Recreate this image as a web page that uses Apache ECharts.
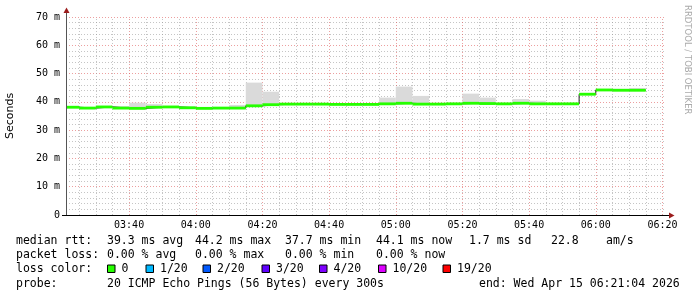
<!DOCTYPE html>
<html>
<head>
<meta charset="utf-8">
<script src="https://cdn.jsdelivr.net/npm/echarts@6/dist/echarts.min.js"></script>
<style>html,body{margin:0;padding:0;background:#fff}#c{width:697px;height:297px}</style>
</head>
<body>
<div id="c"></div>
<script>
// interval start times (last entry = end of final interval)
const times = ['03:21:04','03:25','03:30','03:35','03:40','03:45','03:50','03:55',
  '04:00','04:05','04:10','04:15','04:20','04:25','04:30','04:35','04:40','04:45','04:50','04:55',
  '05:00','05:05','05:10','05:15','05:20','05:25','05:30','05:35','05:40','05:45','05:50','05:55',
  '06:00','06:05','06:10','06:15'];
// median rtt (ms)
const median = [38.1,37.8,38.2,37.8,37.7,38.1,38.2,37.9,37.7,37.8,37.8,38.6,39.0,39.2,39.2,39.2,39.1,39.1,39.1,
  39.3,39.5,39.2,39.2,39.3,39.5,39.4,39.3,39.5,39.3,39.3,39.3,42.7,44.2,44.1,44.1];
// smoke range (ms)
const smokeLow = [37.8,37.5,37.9,37.5,37.4,37.8,37.9,37.6,37.4,37.5,37.5,38.3,38.7,38.9,38.9,38.9,38.8,38.8,38.8,
  39.0,39.2,38.9,38.9,39.0,39.2,39.1,39.0,39.2,39.0,39.0,39.0,42.4,43.9,43.8,43.8];
const smokeHigh = [38.4,38.0,38.4,38.5,39.7,39.2,38.4,38.4,37.9,37.9,38.9,46.8,43.6,39.5,39.4,39.5,39.3,39.3,39.3,
  41.5,45.4,42.1,39.6,39.6,42.9,41.5,39.5,41.0,40.4,39.5,39.5,43.0,44.4,44.6,44.9];
const xTickLabels = ['03:40','04:00','04:20','04:40','05:00','05:20','05:40','06:00','06:20'];
const yTicks = [0,10,20,30,40,50,60,70];
const axisStart = '03:21:04', axisEnd = '06:21:04';

const legendRows = [
  ['median rtt:', [['39.3 ms avg',107],['44.2 ms max',195],['37.7 ms min',285],['44.1 ms now',376],['1.7 ms sd',469],['22.8',551],['am/s',606]]],
  ['packet loss:', [['0.00 % avg',107],['0.00 % max',195],['0.00 % min',285],['0.00 % now',376]]],
  ['loss color:', []],
  ['probe:', [['20 ICMP Echo Pings (56 Bytes) every 300s',107],['end: Wed Apr 15 06:21:04 2026',479]]]
];
const lossColors = [['0','#26ff00'],['1/20','#00b8ff'],['2/20','#0059ff'],['3/20','#5e00ff'],['4/20','#7e00ff'],['10/20','#dd00ff'],['19/20','#ff0000']];
const lossBoxX = [107.5,146,203,262,319.5,378.5,443];

function toMin(s){const p=s.split(':').map(Number);return p[0]*60+p[1]+(p[2]||0)/60;}
const xs = times.map(toMin);
const BAND = 0.5;

const mono = '"DejaVu Sans Mono", monospace';
const minX = toMin(axisStart), maxX = toMin(axisEnd);

const vLines = [];
for (let m = Math.ceil(minX/5)*5; m <= maxX; m += 5) {
  const major = m % 20 === 0;
  vLines.push({xAxis: m, lineStyle: {color: major ? 'rgba(220,80,80,0.55)' : 'rgba(150,150,150,0.55)', type: [1,2], width: 1}});
}

const smokeData = median.map((v,i)=>[xs[i], xs[i+1], smokeLow[i], smokeHigh[i]]);
const bandData = median.map((v,i)=>[xs[i], xs[i+1], v-BAND, v+BAND]);
const medLine = median.map((v,i)=>[xs[i], v]).concat([[xs[xs.length-1], median[median.length-1]]]);

function rectItem(color){
  return function(params, api){
    const p0 = api.coord([api.value(0), api.value(3)]);
    const p1 = api.coord([api.value(1), api.value(2)]);
    return {type:'rect', shape:{x:p0[0], y:p0[1], width:p1[0]-p0[0], height:p1[1]-p0[1]}, style:{fill:color}};
  };
}

const graphic = [
  {type:'line', shape:{x1:66.5,y1:10,x2:66.5,y2:215}, style:{stroke:'#555',lineWidth:1}, z:100},
  {type:'line', shape:{x1:62,y1:215.5,x2:670,y2:215.5}, style:{stroke:'#000',lineWidth:1}, z:100},
  {type:'polygon', shape:{points:[[63.5,13],[69.5,13],[66.5,7.5]]}, style:{fill:'#9b1c1c'}, z:101},
  {type:'polygon', shape:{points:[[669,212.5],[669,218.5],[674.5,215.5]]}, style:{fill:'#9b1c1c'}, z:101},
  {type:'text', x:687, y:5, rotation:-Math.PI/2, style:{text:'RRDTOOL / TOBI OETIKER', fill:'#aaa', font:'8.5px "DejaVu Sans"', align:'left', verticalAlign:'middle'}, z:100}
];
const rowY = [241, 255.5, 269.5, 284];
legendRows.forEach((r,i)=>{
  graphic.push({type:'text', x:16, y:rowY[i], style:{text:r[0], fill:'#000', font:'11.5px '+mono, verticalAlign:'middle'}});
  r[1].forEach(it=>graphic.push({type:'text', x:it[1], y:rowY[i], style:{text:it[0], fill:'#000', font:'11.5px '+mono, verticalAlign:'middle'}}));
});
lossColors.forEach((c,i)=>{
  graphic.push({type:'rect', shape:{x:lossBoxX[i], y:rowY[2]-4.5, width:7.5, height:7.5}, style:{fill:c[1], stroke:'#000', lineWidth:1}});
  graphic.push({type:'text', x:lossBoxX[i]+14, y:rowY[2], style:{text:c[0], fill:'#000', font:'11.5px '+mono, verticalAlign:'middle'}});
});

const chart = echarts.init(document.getElementById('c'), null, {renderer:'canvas'});
chart.setOption({
  backgroundColor:'#fff',
  animation:false,
  grid:{left:66, right:31, top:17, bottom:82, containLabel:false, outerBoundsMode:'none'},
  xAxis:{type:'value', min:minX, max:maxX,
    axisLine:{show:false}, axisTick:{show:false}, splitLine:{show:false},
    axisLabel:{customValues: xTickLabels.map(toMin), formatter:(v)=>{const h=Math.floor(v/60), m=Math.round(v-h*60);return String(h).padStart(2,'0')+':'+String(m).padStart(2,'0');},
      fontFamily:mono, fontSize:10, color:'#000', margin:5}},
  yAxis:{type:'value', min:0, max:70, interval:10,
    name:'Seconds', nameLocation:'middle', nameGap:50, nameRotate:90,
    nameTextStyle:{fontFamily:'"DejaVu Sans"', fontSize:11, color:'#000'},
    axisLine:{show:false}, axisTick:{show:false},
    axisLabel:{formatter:(v)=> yTicks.includes(v) ? (v===0?'0':v+' m') : '', fontFamily:mono, fontSize:10, color:'#000', margin:6},
    splitLine:{show:true, lineStyle:{color:'rgba(220,80,80,0.55)', type:[1,2]}},
    minorTick:{show:false, splitNumber:5},
    minorSplitLine:{show:true, lineStyle:{color:'rgba(150,150,150,0.55)', type:[1,2]}}},
  graphic: graphic,
  series:[
    {type:'line', name:'grid', data:[], silent:true, z:1, markLine:{silent:true, symbol:'none', label:{show:false}, animation:false, z:1, data:vLines}},
    {type:'custom', name:'smoke', z:2, silent:true, renderItem: rectItem('#dadada'), encode:{x:[0,1], y:[2,3]}, data: smokeData},
    {type:'line', name:'median', z:3, step:'end', symbol:'none', showSymbol:false, silent:true, data: medLine, lineStyle:{color:'#202020', width:1}},
    {type:'custom', name:'loss', z:4, silent:true, renderItem: rectItem('#26ff00'), encode:{x:[0,1], y:[2,3]}, data: bandData}
  ]
});
</script>
</body>
</html>
